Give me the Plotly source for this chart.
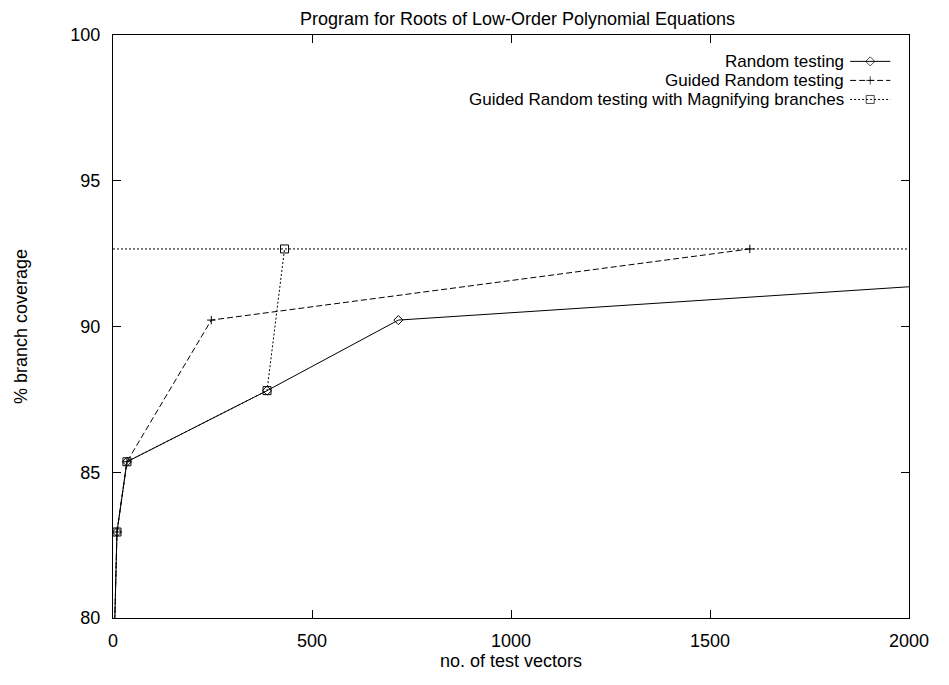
import plotly.graph_objects as go

# ---- data ----
random_vectors = [1, 10, 35, 387, 717, 3500]
random_cov = [78.0, 82.95, 85.36, 87.8, 90.22, 92.7]

guided_vectors = [1, 10, 35, 247, 1600]
guided_cov = [78.0, 82.95, 85.36, 90.22, 92.66]

magnify_vectors = [1, 10, 35, 387, 431]
magnify_cov = [78.0, 82.95, 85.36, 87.8, 92.66]

series_names = ["Random testing", "Guided Random testing",
                "Guided Random testing with Magnifying branches"]

x_ticks = [0, 500, 1000, 1500, 2000]
y_ticks = [80, 85, 90, 95, 100]

FONT = "Liberation Sans, Arial, Helvetica, sans-serif"
FS = 18
FS_KEY = 17
OFF = 8  # browser body margin
W, H = 949 - 2 * OFF, 685 - 2 * OFF
# plot area in page pixels: x 112..923, y 35..632
ML = 112 - OFF
MT = 35 - OFF
MR = W - (923 - OFF)
MB = H - (632 - OFF)

styles = [
    dict(dash="solid", symbol="diamond-open", size=7),
    dict(dash="6px,3px", symbol="cross-thin-open", size=6),
    dict(dash="2px,2px", symbol="square-open", size=8),
]
datasets = [(random_vectors, random_cov), (guided_vectors, guided_cov),
            (magnify_vectors, magnify_cov)]

fig = go.Figure()

# horizontal dotted line at max magnifying coverage
fig.add_hline(y=max(magnify_cov), line=dict(color="black", width=1, dash="2px,2px"))

for (xs, ys), st, name in zip(datasets, styles, series_names):
    fig.add_trace(go.Scatter(
        x=xs, y=ys, mode="lines+markers", name=name, showlegend=False,
        line=dict(color="black", width=1, dash=st["dash"]),
        marker=dict(symbol=st["symbol"], size=st["size"], color="black",
                    line=dict(color="black", width=1)),
        cliponaxis=True,
    ))

# ---- manual gnuplot-style key (text left of sample) ----
pw = W - ML - MR
ph = H - MT - MB
def px2paper_x(px):
    return (px - OFF - ML) / pw
def py2paper_y(py):
    return (H - MB - (py - OFF)) / ph

row_py = [62, 81.5, 101]
text_right = px2paper_x(858)
s0, s1 = px2paper_x(863), px2paper_x(904)
smid = (s0 + s1) / 2
for i, (name, st) in enumerate(zip(series_names, styles)):
    ry = py2paper_y(row_py[i])
    fig.add_annotation(x=text_right, y=ry, xref="paper", yref="paper",
                       text=name, showarrow=False, xanchor="right", yanchor="middle",
                       borderpad=0,
                       font=dict(family=FONT, size=FS_KEY, color="black"))
    fig.add_trace(go.Scatter(
        x=[s0, smid, s1], y=[ry, ry, ry], xaxis="x2", yaxis="y2",
        mode="lines+markers", showlegend=False, hoverinfo="skip",
        line=dict(color="black", width=1, dash=st["dash"]),
        marker=dict(symbol=st["symbol"], size=[0, st["size"], 0], color="black",
                    line=dict(color="black", width=1)),
        cliponaxis=False,
    ))

axis_common = dict(
    showline=True, linecolor="black", linewidth=1, mirror="ticks",
    ticks="inside", ticklen=8, tickcolor="black", tickwidth=1,
    showgrid=False, zeroline=False, ticklabeloverflow="allow",
    tickfont=dict(family=FONT, size=FS, color="black"),
)

fig.update_layout(
    width=W, height=H,
    margin=dict(l=ML, r=MR, t=MT, b=MB),
    paper_bgcolor="white", plot_bgcolor="white",
    showlegend=False,
    title=dict(text="Program for Roots of Low-Order Polynomial Equations",
               x=(ML + pw / 2) / W, xanchor="center",
               y=1 - (19 - OFF) / H, yanchor="middle", yref="container",
               font=dict(family=FONT, size=FS, color="black")),
    xaxis=dict(range=[0, 2000], tickvals=x_ticks, ticktext=[str(v) for v in x_ticks],
               ticklabelstandoff=6,
               title=dict(text="no. of test vectors", standoff=2,
                          font=dict(family=FONT, size=FS, color="black")),
               **axis_common),
    yaxis=dict(range=[80, 100], tickvals=y_ticks, ticktext=[str(v) for v in y_ticks],
               ticklabelstandoff=8,
               title=dict(text="% branch coverage", standoff=38,
                          font=dict(family=FONT, size=FS, color="black")),
               **axis_common),
    xaxis2=dict(overlaying="x", range=[0, 1], visible=False, fixedrange=True),
    yaxis2=dict(overlaying="y", range=[0, 1], visible=False, fixedrange=True),
)

fig.write_html("out.html")
